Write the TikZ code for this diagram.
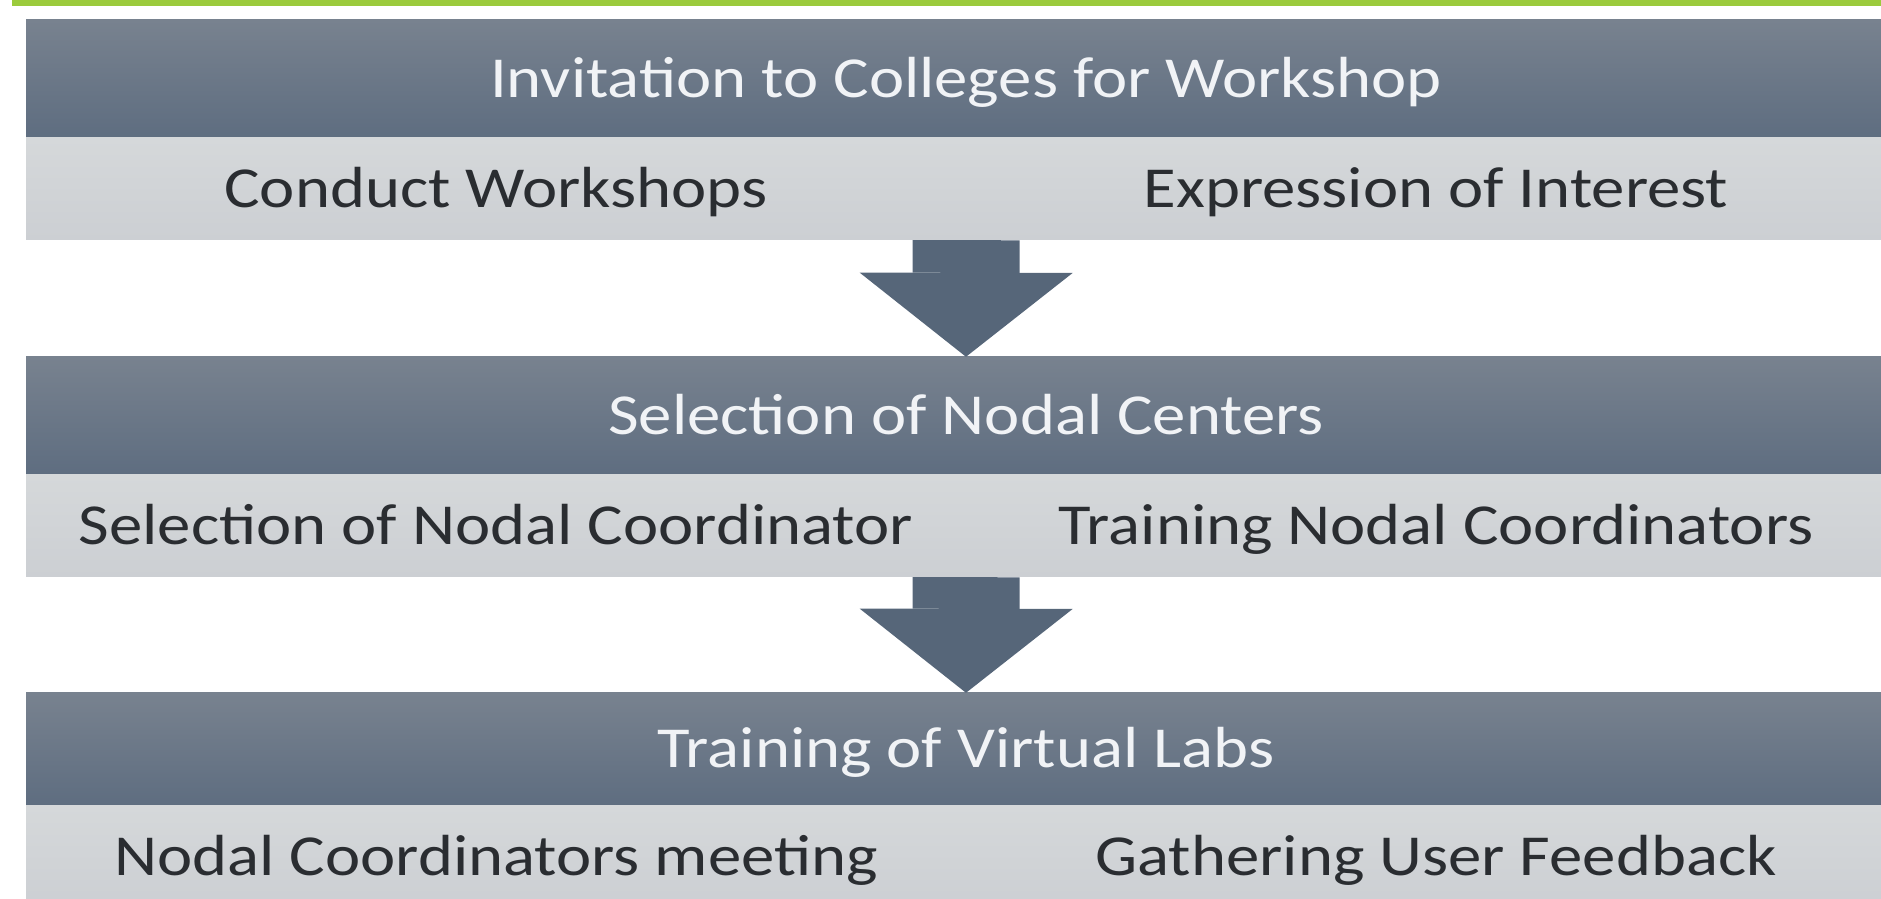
\documentclass[tikz,border=0pt]{standalone}
\usepackage{fontspec}
\setmainfont[FakeStretch=1.15]{Carlito}
\usetikzlibrary{arrows.meta}
\definecolor{slatetop}{HTML}{78828F}
\definecolor{slatebot}{HTML}{5E6D80}
\definecolor{greytop}{HTML}{D5D8DA}
\definecolor{greybot}{HTML}{CCCFD3}
\definecolor{arrowblue}{HTML}{566679}
\definecolor{limebar}{HTML}{9BCB3C}
\definecolor{darktext}{HTML}{2A2D31}
\definecolor{lighttext}{HTML}{F1F3F6}
\tikzset{
  stagehead/.style={draw=none,inner sep=0pt,minimum width=1880bp,minimum height=118bp,
    top color=slatetop,bottom color=slatebot,text=lighttext,
    font=\fontsize{58bp}{60bp}\selectfont,text height=37bp,text depth=0pt},
  stagecell/.style={draw=none,inner sep=0pt,minimum width=940bp,minimum height=102bp,
    top color=greytop,bottom color=greybot,text=darktext,
    font=\fontsize{58bp}{60bp}\selectfont,text height=37bp,text depth=0pt},
  blockarrow/.style={draw=arrowblue,line width=107bp,
    -{Triangle[width=213bp,length=84bp,line width=0pt]}},
}
\begin{document}
\begin{tikzpicture}[>=latex,line join=bevel,]
\useasboundingbox (0bp,0bp) rectangle (1881bp,899bp);
\clip (0bp,0bp) rectangle (1881bp,899bp);
%%
\fill [limebar] (12bp,893bp) rectangle (1881bp,899bp);
%%
\node (head_1) at (966bp,820bp) [stagehead] {Invitation to Colleges for Workshop};
  \node (cell_1a) at (496bp,710bp) [stagecell] {Conduct Workshops};
  \node (cell_1b) at (1436bp,710bp) [stagecell] {Expression of Interest};
\node (head_2) at (966bp,483bp) [stagehead] {Selection of Nodal Centers};
  \node (cell_2a) at (496bp,373bp) [stagecell] {Selection of Nodal Coordinator};
  \node (cell_2b) at (1436bp,373bp) [stagecell] {Training Nodal Coordinators};
\node (head_3) at (966bp,149.5bp) [stagehead,minimum height=113bp] {Training of Virtual Labs};
  \node (cell_3a) at (496bp,42bp) [stagecell] {Nodal Coordinators meeting};
  \node (cell_3b) at (1436bp,42bp) [stagecell] {Gathering User Feedback};
%
  \draw [blockarrow] (cell_1a.south east) -- (head_2.north);
  \draw [blockarrow] (cell_2a.south east) -- (head_3.north);
%
\end{tikzpicture}
\end{document}
